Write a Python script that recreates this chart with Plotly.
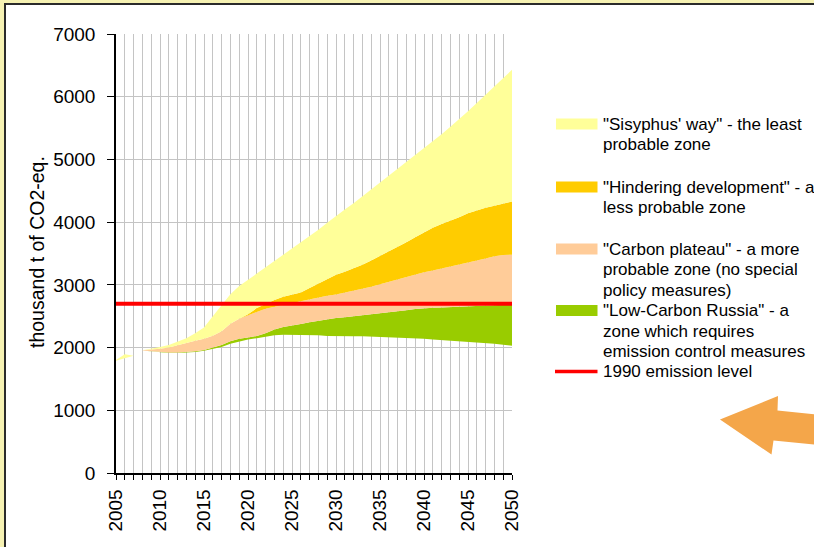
import plotly.graph_objects as go

# Emission scenario zones, thousand t of CO2-eq., 2008-2050
years = list(range(2008, 2051))

low_carbon_lower = [1955, 1940, 1925, 1915, 1915, 1920, 1930, 1950, 1975, 2010,
                    2060, 2100, 2130, 2150, 2175, 2195, 2205, 2205, 2205, 2205,
                    2195, 2185, 2180, 2180, 2180, 2180, 2175, 2170, 2170, 2165,
                    2160, 2150, 2140, 2130, 2120, 2110, 2105, 2100, 2090, 2075,
                    2060, 2045, 2030]
low_carbon_upper = [1955, 1942, 1928, 1920, 1922, 1930, 1942, 1960, 1995, 2040,
                    2100, 2140, 2160, 2185, 2230, 2290, 2330, 2350, 2375, 2405,
                    2430, 2450, 2470, 2485, 2500, 2515, 2525, 2540, 2555, 2575,
                    2595, 2615, 2630, 2635, 2640, 2645, 2650, 2657, 2665, 2672,
                    2680, 2685, 2690]
plateau_upper = [1958, 1965, 1980, 2000, 2040, 2080, 2110, 2140, 2190, 2260,
                 2380, 2460, 2510, 2560, 2620, 2650, 2680, 2710, 2735, 2765,
                 2800, 2825, 2845, 2875, 2905, 2935, 2970, 3010, 3050, 3090,
                 3125, 3160, 3200, 3230, 3260, 3290, 3320, 3350, 3385, 3420,
                 3455, 3475, 3482]
hindering_upper = [1958, 1965, 1980, 2000, 2040, 2080, 2110, 2140, 2190, 2260,
                   2380, 2460, 2530, 2630, 2700, 2760, 2810, 2850, 2880, 2950,
                   3020, 3100, 3160, 3210, 3260, 3320, 3390, 3460, 3530, 3600,
                   3680, 3760, 3840, 3910, 3970, 4020, 4080, 4140, 4190, 4230,
                   4260, 4290, 4330]
sisyphus_upper = [1958, 1980, 2010, 2040, 2090, 2150, 2230, 2320, 2500, 2680,
                  2850, 2980, 3080, 3170, 3270, 3380, 3480, 3580, 3680, 3780,
                  3880, 3990, 4100, 4200, 4300, 4410, 4520, 4630, 4740, 4840,
                  4950, 5060, 5180, 5290, 5400, 5520, 5640, 5770, 5900, 6030,
                  6160, 6300, 6430]

# Early Sisyphus fragment, 2005-2007
early_years = [2005, 2006, 2007]
early_lower = [1790, 1833, 1870]
early_upper = [1800, 1895, 1870]

level_1990 = 2700

C_YELLOW = "#ffff99"
C_ORANGE = "#ffcc00"
C_PEACH = "#ffcc99"
C_GREEN = "#99cc00"
C_RED = "#ff0000"

FONT = "Liberation Sans, Arial, sans-serif"

# plot-area geometry in pixels
W_PX, H_PX = 814, 547
L, T, R, B = 116, 34, 302, 74
PW, PH = W_PX - L - R, H_PX - T - B


def px(x):
    return (x - L) / PW


def py(y):
    return 1 - (y - T) / PH


fig = go.Figure()

bounds = [
    (low_carbon_lower, None),
    (low_carbon_upper, C_GREEN),
    (plateau_upper, C_PEACH),
    (hindering_upper, C_ORANGE),
    (sisyphus_upper, C_YELLOW),
]
for vals, col in bounds:
    fig.add_trace(go.Scatter(
        x=years, y=vals, mode="lines", line=dict(width=0, color=col or "rgba(0,0,0,0)"),
        fill=None if col is None else "tonexty", fillcolor=col,
        hoverinfo="skip", showlegend=False))

fig.add_trace(go.Scatter(x=early_years, y=early_lower, mode="lines",
                         line=dict(width=0), hoverinfo="skip", showlegend=False))
fig.add_trace(go.Scatter(x=early_years, y=early_upper, mode="lines",
                         line=dict(width=0, color=C_YELLOW), fill="tonexty",
                         fillcolor=C_YELLOW, hoverinfo="skip", showlegend=False))

fig.add_trace(go.Scatter(x=[2005, 2050], y=[level_1990, level_1990], mode="lines",
                         line=dict(width=4, color=C_RED), hoverinfo="skip",
                         showlegend=False))

shapes = []
annotations = []

# white panel with dark frame
shapes.append(dict(type="rect", xref="paper", yref="paper", layer="below",
                   x0=px(5), x1=px(840), y0=py(570), y1=py(4),
                   fillcolor="white", line=dict(color="#2b2b2b", width=2)))

# legend
legend_items = [
    ("rect", C_YELLOW, 124, ["\"Sisyphus' way\" - the least", "probable zone"]),
    ("rect", C_ORANGE, 187, ["\"Hindering development\" - a", "less probable zone"]),
    ("rect", C_PEACH, 249, ["\"Carbon plateau\" - a more", "probable zone (no special",
                            "policy measures)"]),
    ("rect", C_GREEN, 310.5, ["\"Low-Carbon Russia\" - a", "zone which requires",
                              "emission control measures"]),
    ("line", C_RED, 371.5, ["1990 emission level"]),
]
LINE_H = 20.6
for kind, col, yc, lines in legend_items:
    if kind == "rect":
        shapes.append(dict(type="rect", xref="paper", yref="paper",
                           x0=px(556), x1=px(597.5), y0=py(yc + 5.5), y1=py(yc - 5.5),
                           fillcolor=col, line=dict(width=0)))
    else:
        shapes.append(dict(type="line", xref="paper", yref="paper",
                           x0=px(555), x1=px(597.5), y0=py(yc), y1=py(yc),
                           line=dict(color=col, width=3.5)))
    for i, txt in enumerate(lines):
        annotations.append(dict(xref="paper", yref="paper", x=px(601), y=py(yc + i * LINE_H),
                                xanchor="left", yanchor="middle", showarrow=False,
                                text=txt, font=dict(family=FONT, size=17, color="black")))

# y-axis title
annotations.append(dict(xref="paper", yref="paper", x=px(37), y=py(252),
                        xanchor="center", yanchor="middle", showarrow=False,
                        textangle=-90, text="thousand t of CO2-eq.",
                        font=dict(family=FONT, size=19.5, color="black")))

# orange arrow pointing left
arrow_pts = [(720, 419.5), (778, 396), (777.5, 410.5), (830, 416),
             (830, 446), (773.5, 440.5), (771.5, 454.5)]
path = "M " + " L ".join(f"{px(x):.5f},{py(y):.5f}" for x, y in arrow_pts) + " Z"
shapes.append(dict(type="path", xref="paper", yref="paper", path=path,
                   fillcolor="#f4a64a", line=dict(width=0)))

fig.update_layout(
    width=W_PX, height=H_PX,
    margin=dict(l=L, r=R, t=T, b=B, pad=0),
    paper_bgcolor="#f6f2b3",
    plot_bgcolor="white",
    shapes=shapes,
    annotations=annotations,
    showlegend=False,
    font=dict(family=FONT, size=17, color="black"),
)

fig.update_xaxes(
    range=[2005, 2050], tick0=2005, dtick=5, tickangle=-90,
    ticks="outside", ticklen=5, tickcolor="black", tickwidth=1,
    showgrid=True, gridcolor="#c4c4c4", gridwidth=1,
    showline=True, linecolor="black", linewidth=1.5,
    zeroline=False, ticklabelstandoff=2,
    tickfont=dict(family=FONT, size=19, color="black"),
    minor=dict(dtick=1, tick0=2005, ticks="outside", ticklen=5, tickcolor="black",
               showgrid=True, gridcolor="#c4c4c4", gridwidth=1),
)
fig.update_yaxes(
    range=[0, 7000], dtick=1000, ticks="outside", ticklen=7, tickcolor="black",
    showgrid=True, gridcolor="#c4c4c4", gridwidth=1,
    showline=True, linecolor="black", linewidth=1.5,
    zeroline=False, ticklabelstandoff=8,
    tickfont=dict(family=FONT, size=19, color="black"),
)

fig.write_html("out.html")
